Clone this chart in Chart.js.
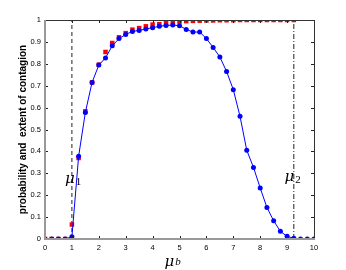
<!DOCTYPE html>
<html>
<head>
<meta charset="utf-8">
<script src="https://cdn.jsdelivr.net/npm/chart.js@4/dist/chart.umd.min.js"></script>
<style>
html,body{margin:0;padding:0;background:#fff;}
#wrap{width:346px;height:270px;}
</style>
</head>
<body>
<div id="wrap"><canvas id="c" width="346" height="270"></canvas></div>
<script>
// mu_b values (x)
const muB = [0,0.25,0.5,0.75,1,1.25,1.5,1.75,2,2.25,2.5,2.75,3,3.25,3.5,3.75,4,4.25,4.5,4.75,5,5.25,5.5,5.75,6,6.25,6.5,6.75,7,7.25,7.5,7.75,8,8.25,8.5,8.75,9,9.25,9.5,9.75,10];
// probability of contagion (red squares)
const probContagion = [0,0,0,0,0.066,0.37,0.583,0.715,0.796,0.854,0.895,0.921,0.94,0.956,0.963,0.971,0.979,0.981,0.988,0.99,0.993,0.995,0.996,0.997,0.998,0.998,0.999,0.999,0.999,1,1,1,1,1,1,1,1,1,null,null,null];
// extent of contagion (blue circles)
const extentContagion = [0,0,0,0,0.01,0.378,0.578,0.715,0.794,0.827,0.882,0.915,0.934,0.948,0.952,0.959,0.965,0.971,0.975,0.977,0.974,0.957,0.945,0.945,0.915,0.875,0.831,0.765,0.682,0.56,0.405,0.327,0.233,0.144,0.083,0.035,0.012,0.003,0,0,0];
// thresholds
const mu1 = 1;
const mu2 = 9.25;
const xTicks = [0,1,2,3,4,5,6,7,8,9,10];
const yTicks = [0,0.1,0.2,0.3,0.4,0.5,0.6,0.7,0.8,0.9,1];
const xTickLabels = ['0','1','2','3','4','5','6','7','8','9','10'];
const yTickLabels = ['0','0.1','0.2','0.3','0.4','0.5','0.6','0.7','0.8','0.9','1'];
const yTitle = 'probability and  extent of contagion';
const labels = [
  {main:'\u03BC', sub:'1', x:0.74, y:0.255},
  {main:'\u03BC', sub:'2', x:8.9, y:0.265}
];

const toPts = arr => muB.map((x,i)=>({x:x,y:arr[i]}));

const decor = {
  id:'decor',
  afterDatasetsDraw(chart){
    const {ctx, chartArea:a, scales:{x,y}} = chart;
    ctx.save();
    // inward ticks
    ctx.strokeStyle = '#222';
    ctx.lineWidth = 1;
    ctx.beginPath();
    yTicks.forEach(v=>{
      const py = Math.round(y.getPixelForValue(v))+0.5;
      ctx.moveTo(a.left, py); ctx.lineTo(a.left+3, py);
      ctx.moveTo(a.right, py); ctx.lineTo(a.right-3, py);
    });
    xTicks.forEach(v=>{
      const px = Math.round(x.getPixelForValue(v))+0.5;
      ctx.moveTo(px, a.bottom); ctx.lineTo(px, a.bottom-3);
      ctx.moveTo(px, a.top); ctx.lineTo(px, a.top+3);
    });
    ctx.stroke();
    // box
    ctx.strokeStyle = '#333';
    ctx.lineWidth = 1;
    ctx.beginPath();
    ctx.moveTo(a.left, a.top+0.5); ctx.lineTo(a.right+0.5, a.top+0.5); ctx.lineTo(a.right+0.5, a.bottom);
    ctx.stroke();
    ctx.strokeStyle = '#999';
    ctx.lineWidth = 2;
    ctx.beginPath();
    ctx.moveTo(a.left, a.top); ctx.lineTo(a.left, a.bottom); ctx.lineTo(a.right+1, a.bottom);
    ctx.stroke();
    // mu labels
    ctx.fillStyle = '#000';
    ctx.textBaseline = 'alphabetic';
    labels.forEach(l=>{
      const px = x.getPixelForValue(l.x), py = y.getPixelForValue(l.y);
      ctx.font = 'italic 15px "DejaVu Serif"';
      ctx.fillText(l.main, px, py);
      const w = ctx.measureText(l.main).width;
      ctx.font = '11px "Liberation Serif"';
      ctx.fillText(l.sub, px+w+1, py+2);
    });
    // x title
    const cx = (a.left+a.right)/2 - 15;
    const by = 266;
    ctx.font = 'italic 15px "DejaVu Serif"';
    ctx.fillText('\u03BC', cx, by);
    const w2 = ctx.measureText('\u03BC').width;
    ctx.font = 'italic 11px "Liberation Serif"';
    ctx.fillText('b', cx+w2+1, by-1);
    ctx.restore();
  }
};

new Chart(document.getElementById('c'), {
  type:'scatter',
  data:{
    datasets:[
      {data:[{x:mu1,y:0},{x:mu1,y:1}], showLine:true, borderColor:'#222', borderWidth:1, borderDash:[4,3], pointRadius:0, order:3},
      {data:[{x:mu2,y:0},{x:mu2,y:1}], showLine:true, borderColor:'#222', borderWidth:1, borderDash:[5,2,1,2], pointRadius:0, order:3},
      {data:toPts(probContagion), showLine:false, pointStyle:'rect', pointRadius:3.2, backgroundColor:'#ff0000', borderColor:'#ff0000', borderWidth:0, order:2},
      {data:toPts(extentContagion), showLine:true, borderColor:'#0000ff', borderWidth:1, pointStyle:'circle', pointRadius:2.5, backgroundColor:'#0000ff', pointBorderColor:'#0000ff', pointBorderWidth:0, order:1}
    ]
  },
  options:{
    responsive:false,
    animation:false,
    events:[],
    layout:{padding:{top:20,right:32,left:0,bottom:0}},
    plugins:{legend:{display:false}, tooltip:{enabled:false}},
    scales:{
      x:{type:'linear', min:0, max:10,
        afterFit(s){ s.height = 31; },
        afterBuildTicks(s){ s.ticks = xTicks.map(v=>({value:v})); },
        grid:{display:false, drawTicks:false},
        border:{display:false},
        ticks:{padding:4, color:'#000', font:{family:'"Liberation Sans"', size:7.5}, maxRotation:0,
          callback:(v)=>{ const i = xTicks.indexOf(v); return i>=0 ? xTickLabels[i] : ''; }}
      },
      y:{type:'linear', min:0, max:1,
        afterFit(s){ s.width = 45; },
        afterBuildTicks(s){ s.ticks = yTicks.map(v=>({value:v})); },
        grid:{display:false, drawTicks:false},
        border:{display:false},
        ticks:{padding:4, color:'#000', font:{family:'"Liberation Sans"', size:7.5},
          callback:(v)=>{ const i = yTicks.findIndex(t=>Math.abs(t-v)<1e-9); return i>=0 ? yTickLabels[i] : ''; }},
        title:{display:true, text:yTitle, color:'#000', font:{family:'"Liberation Sans"', size:10, weight:'bold'}, padding:{top:17,bottom:0}}
      }
    }
  },
  plugins:[decor]
});
</script>
</body>
</html>
